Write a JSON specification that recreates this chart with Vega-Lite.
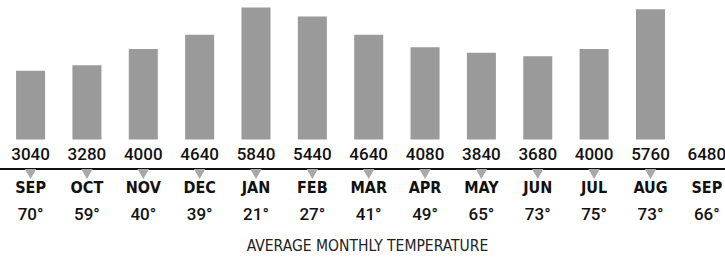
{
  "$schema": "https://vega.github.io/schema/vega-lite/v6.json",
  "width": 725,
  "height": 236,
  "autosize": "none",
  "padding": {"left": 0, "top": 0, "right": 0, "bottom": 22},
  "background": "white",
  "config": {"view": {"stroke": null}},
  "title": {
    "text": "AVERAGE MONTHLY TEMPERATURE",
    "orient": "bottom",
    "anchor": "middle",
    "offset": 3,
    "dx": 5,
    "font": "DejaVu Sans Condensed, Liberation Sans",
    "fontSize": 15.5,
    "fontWeight": "normal",
    "color": "#222222"
  },
  "data": {
    "values": [
      {"key": "SEP1", "month": "SEP", "kwh": 3040, "temp": "70°", "bar": true},
      {"key": "OCT", "month": "OCT", "kwh": 3280, "temp": "59°", "bar": true},
      {"key": "NOV", "month": "NOV", "kwh": 4000, "temp": "40°", "bar": true},
      {"key": "DEC", "month": "DEC", "kwh": 4640, "temp": "39°", "bar": true},
      {"key": "JAN", "month": "JAN", "kwh": 5840, "temp": "21°", "bar": true},
      {"key": "FEB", "month": "FEB", "kwh": 5440, "temp": "27°", "bar": true},
      {"key": "MAR", "month": "MAR", "kwh": 4640, "temp": "41°", "bar": true},
      {"key": "APR", "month": "APR", "kwh": 4080, "temp": "49°", "bar": true},
      {"key": "MAY", "month": "MAY", "kwh": 3840, "temp": "65°", "bar": true},
      {"key": "JUN", "month": "JUN", "kwh": 3680, "temp": "73°", "bar": true},
      {"key": "JUL", "month": "JUL", "kwh": 4000, "temp": "75°", "bar": true},
      {"key": "AUG", "month": "AUG", "kwh": 5760, "temp": "73°", "bar": true},
      {"key": "SEP2", "month": "SEP", "kwh": 6480, "temp": "66°", "bar": false}
    ]
  },
  "layer": [
    {
      "transform": [{"filter": "datum.bar"}],
      "mark": {"type": "bar", "color": "#9a9a9a"},
      "encoding": {
        "x": {"field": "key", "type": "nominal", "sort": null, "axis": null,
              "scale": {"domain": ["SEP1","OCT","NOV","DEC","JAN","FEB","MAR","APR","MAY","JUN","JUL","AUG","SEP2"], "range": [2.4, 735], "paddingInner": 0.485, "paddingOuter": 0.2425}},
        "y": {
          "field": "kwh",
          "type": "quantitative",
          "axis": null,
          "scale": {"domain": [0, 6172], "range": [139.5, 0], "nice": false, "zero": true}
        }
      }
    },
    {
      "mark": {"type": "text", "font": "Roboto", "fontWeight": 500, "fontSize": 17, "color": "#111111", "baseline": "middle"},
      "encoding": {
        "x": {"field": "key", "type": "nominal", "sort": null},
        "text": {"field": "kwh", "type": "quantitative", "format": "d"},
        "y": {"value": 155}
      }
    },
    {
      "mark": {"type": "rule", "color": "#111111", "strokeWidth": 1.8},
      "encoding": {"y": {"value": 169}}
    },
    {
      "transform": [{"filter": "datum.bar"}],
      "mark": {"type": "point", "shape": "triangle-down", "filled": true, "color": "#a8a8a8", "opacity": 1, "size": 130},
      "encoding": {
        "x": {"field": "key", "type": "nominal", "sort": null},
        "y": {"value": 174}
      }
    },
    {
      "mark": {"type": "text", "font": "DejaVu Sans Condensed, Liberation Sans", "fontWeight": "bold", "fontSize": 16, "color": "#111111", "baseline": "middle"},
      "encoding": {
        "x": {"field": "key", "type": "nominal", "sort": null},
        "text": {"field": "month", "type": "nominal"},
        "y": {"value": 188}
      }
    },
    {
      "mark": {"type": "text", "font": "Roboto", "fontWeight": 500, "fontSize": 17, "color": "#111111", "baseline": "middle"},
      "encoding": {
        "x": {"field": "key", "type": "nominal", "sort": null},
        "text": {"field": "temp", "type": "nominal"},
        "y": {"value": 215}
      }
    }
  ]
}
